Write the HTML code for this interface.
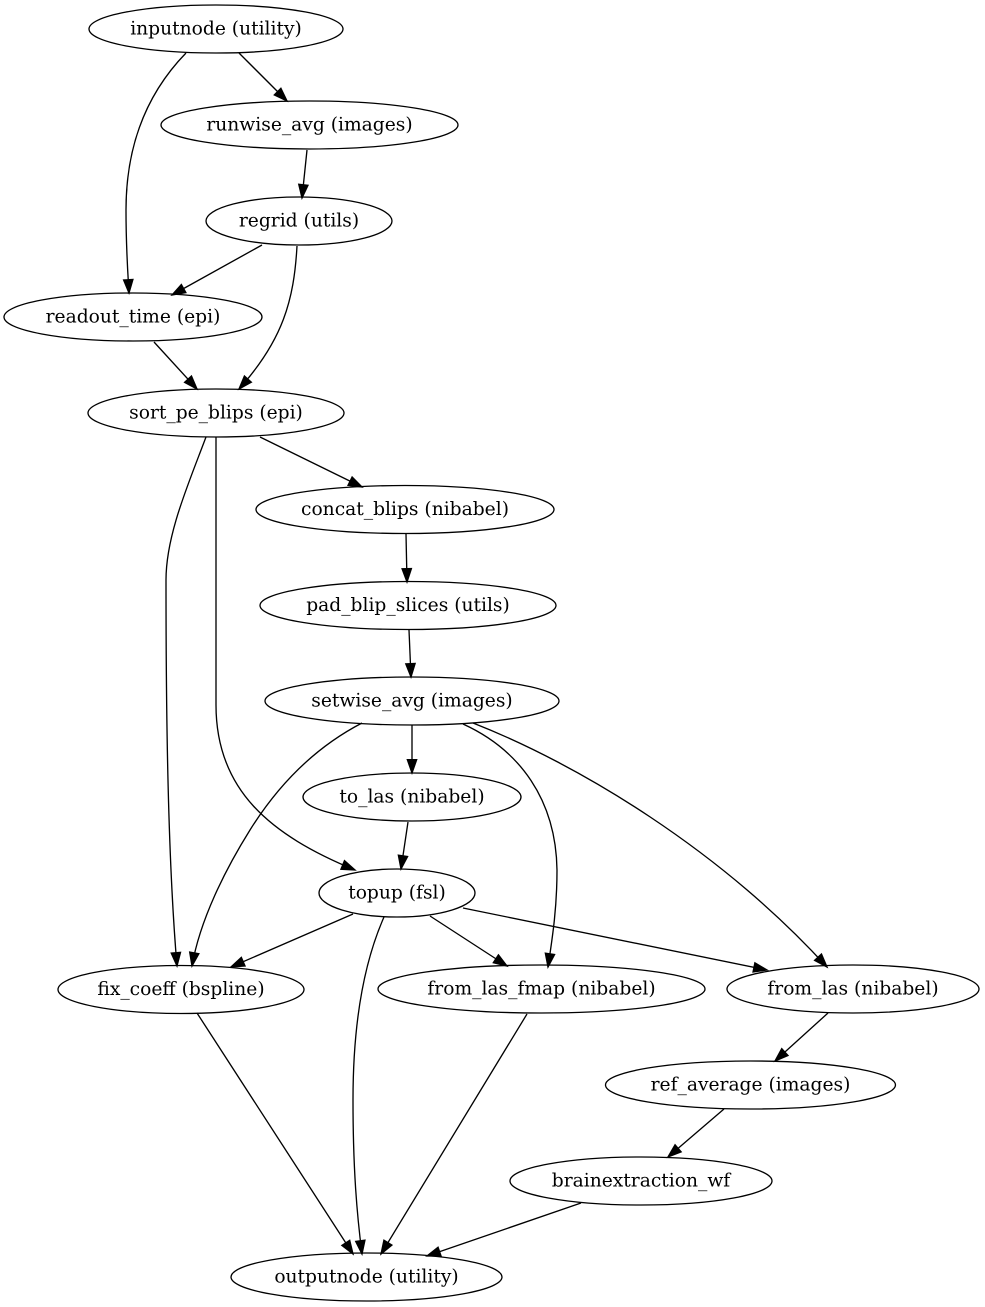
<!DOCTYPE html>
<html><head><meta charset="utf-8"><style>
html,body{margin:0;padding:0;background:#fff;}
svg{display:block;}
text{font-family:"DejaVu Serif","Liberation Serif",serif;font-size:18.67px;text-anchor:middle;fill:#000;}
ellipse{fill:none;stroke:#000;stroke-width:1.33;}
path.e{fill:none;stroke:#000;stroke-width:1.33;}
</style></head><body>
<svg width="985" height="1307" viewBox="0 0 985 1307" xmlns="http://www.w3.org/2000/svg">
<defs>
<marker id="a" markerWidth="16" markerHeight="12" refX="13.3" refY="4.67" orient="auto" markerUnits="userSpaceOnUse" overflow="visible">
<path d="M0,0 L13.3,4.67 L0,9.33 z" fill="#000" stroke="#000" stroke-width="1.33"/>
</marker>
</defs>
<rect width="985" height="1307" fill="#fff"/>

<!-- edges -->
<path class="e" marker-end="url(#a)" d="M239,53 L287,101"/>
<path class="e" marker-end="url(#a)" d="M186,53 C150,90 126,140 126,210 C126,250 128,275 129,293"/>
<path class="e" marker-end="url(#a)" d="M307,150 L302,198"/>
<path class="e" marker-end="url(#a)" d="M262,245 L172,295"/>
<path class="e" marker-end="url(#a)" d="M297,246 C294,300 283,340 239,389"/>
<path class="e" marker-end="url(#a)" d="M154,342 L197,389"/>
<path class="e" marker-end="url(#a)" d="M260,437 L362,487"/>
<path class="e" marker-end="url(#a)" d="M206,437 C188,485 166,535 166,580 C166,720 168,860 177,966"/>
<path class="e" marker-end="url(#a)" d="M216,437 L216,705 C216,790 270,835 355,870"/>
<path class="e" marker-end="url(#a)" d="M406,534 L407,582"/>
<path class="e" marker-end="url(#a)" d="M409,630 L411,677"/>
<path class="e" marker-end="url(#a)" d="M412,725 L412,773"/>
<path class="e" marker-end="url(#a)" d="M362,723 C310,750 275,790 250,830 C225,870 200,920 192,966"/>
<path class="e" marker-end="url(#a)" d="M463,724 C520,750 556,800 557,870 C557,910 552,940 548,967"/>
<path class="e" marker-end="url(#a)" d="M473,723 C580,765 720,850 827,967"/>
<path class="e" marker-end="url(#a)" d="M408,822 L401,869"/>
<path class="e" marker-end="url(#a)" d="M353,914 L231,967"/>
<path class="e" marker-end="url(#a)" d="M430,916 L507,966"/>
<path class="e" marker-end="url(#a)" d="M463,908 L767,970"/>
<path class="e" marker-end="url(#a)" d="M384,917 C365,960 353,1020 353,1100 C353,1170 357,1215 362,1254"/>
<path class="e" marker-end="url(#a)" d="M197,1013 L353,1254"/>
<path class="e" marker-end="url(#a)" d="M527,1014 L381,1254"/>
<path class="e" marker-end="url(#a)" d="M828,1013 L775,1061"/>
<path class="e" marker-end="url(#a)" d="M724,1109 L668,1157"/>
<path class="e" marker-end="url(#a)" d="M581,1203 L427,1256"/>

<!-- nodes -->
<ellipse cx="216" cy="29" rx="127" ry="24"/><text x="216" y="34.5">inputnode (utility)</text>
<ellipse cx="309.5" cy="125" rx="148.5" ry="24"/><text x="309.5" y="130.5">runwise_avg (images)</text>
<ellipse cx="299" cy="221" rx="93" ry="24"/><text x="299" y="226.5">regrid (utils)</text>
<ellipse cx="133" cy="317" rx="129" ry="24"/><text x="133" y="322.5">readout_time (epi)</text>
<ellipse cx="216" cy="413" rx="128" ry="24"/><text x="216" y="418.5">sort_pe_blips (epi)</text>
<ellipse cx="405" cy="509.5" rx="149" ry="24"/><text x="405" y="515">concat_blips (nibabel)</text>
<ellipse cx="408" cy="605.5" rx="148" ry="24"/><text x="408" y="611">pad_blip_slices (utils)</text>
<ellipse cx="412" cy="701" rx="147" ry="24"/><text x="412" y="706.5">setwise_avg (images)</text>
<ellipse cx="412" cy="797" rx="109" ry="24"/><text x="412" y="802.5">to_las (nibabel)</text>
<ellipse cx="397" cy="893" rx="78" ry="24"/><text x="397" y="898.5">topup (fsl)</text>
<ellipse cx="181" cy="989.5" rx="123" ry="24"/><text x="181" y="995">fix_coeff (bspline)</text>
<ellipse cx="541.5" cy="989" rx="163.5" ry="24"/><text x="541.5" y="994.5">from_las_fmap (nibabel)</text>
<ellipse cx="853" cy="989" rx="126" ry="24"/><text x="853" y="994.5">from_las (nibabel)</text>
<ellipse cx="750.5" cy="1085" rx="145" ry="24"/><text x="750.5" y="1090.5">ref_average (images)</text>
<ellipse cx="641" cy="1181" rx="131" ry="24"/><text x="641" y="1186.5">brainextraction_wf</text>
<ellipse cx="366.5" cy="1277" rx="135.5" ry="24"/><text x="366.5" y="1282.5">outputnode (utility)</text>
</svg>
</body></html>
